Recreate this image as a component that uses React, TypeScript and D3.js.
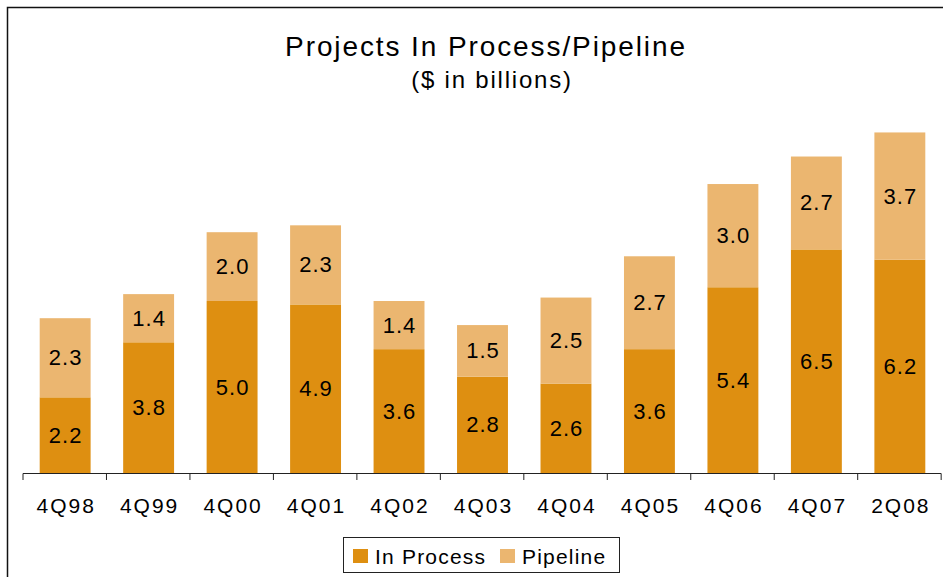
import React from 'react'
import * as d3 from 'd3'

const categories = ['4Q98', '4Q99', '4Q00', '4Q01', '4Q02', '4Q03', '4Q04', '4Q05', '4Q06', '4Q07', '2Q08']
const inProcess = [2.2, 3.8, 5.0, 4.9, 3.6, 2.8, 2.6, 3.6, 5.4, 6.5, 6.2]
const pipeline = [2.3, 1.4, 2.0, 2.3, 1.4, 1.5, 2.5, 2.7, 3.0, 2.7, 3.7]
const seriesNames = ['In Process', 'Pipeline']
const colors = ['#DE8F11', '#EBB670']

const W = 943
const H = 577
const FONT = '"Liberation Sans", Arial, sans-serif'

export default function App() {
  const x = d3.scaleBand<string>()
    .domain(categories)
    .range([23, 942])
    .paddingInner(0.39)
    .paddingOuter(0.2)

  const y = d3.scaleLinear().domain([0, 10]).range([473, 129])

  const rows = categories.map((c, i) => ({ cat: c, inProcess: inProcess[i], pipeline: pipeline[i] }))
  const stacked = d3.stack<typeof rows[number]>().keys(['inProcess', 'pipeline'])(rows)

  const step = x.step()
  const x0 = 23
  const ticks = d3.range(categories.length + 1).map(i => x0 + i * step)

  return (
    <div style={{ position: 'absolute', left: 0, top: 0 }}>
      <svg width={W} height={H} style={{ display: 'block', fontFamily: FONT }}>
        <rect x={0} y={0} width={W} height={H} fill="#fff" />
        <rect x={7.5} y={7.5} width={W + 10} height={H + 10} fill="none" stroke="#111" strokeWidth={1.5} />

        <text x={486} y={56} textAnchor="middle" fontSize={28} letterSpacing={1.9} fill="#000">Projects In Process/Pipeline</text>
        <text x={492} y={88} textAnchor="middle" fontSize={24} letterSpacing={1.8} fill="#000">($ in billions)</text>

        {stacked.map((s, si) => (
          <g key={si}>
            {s.map((d, i) => {
              const bx = x(categories[i])!
              const top = y(d[1])
              const bottom = y(d[0])
              return (
                <g key={i}>
                  <rect x={bx} y={top} width={x.bandwidth()} height={bottom - top} fill={colors[si]} />
                  <text
                    x={bx + x.bandwidth() / 2 + 0.5}
                    y={(top + bottom) / 2 + 7.5}
                    textAnchor="middle"
                    fontSize={22}
                    letterSpacing={1}
                    fill="#000"
                  >
                    {(d[1] - d[0]).toFixed(1)}
                  </text>
                </g>
              )
            })}
          </g>
        ))}

        <line x1={x0} x2={x0 + categories.length * step} y1={473.5} y2={473.5} stroke="#222" strokeWidth={1} />
        {ticks.map((t, i) => (
          <line key={i} x1={t} x2={t} y1={473.5} y2={480} stroke="#222" strokeWidth={1} />
        ))}
        {categories.map(c => (
          <text key={c} x={x(c)! + x.bandwidth() / 2 + 1} y={513} textAnchor="middle" fontSize={21} letterSpacing={2} fill="#000">{c}</text>
        ))}

        <rect x={343.5} y={537.5} width={276} height={35} fill="#fff" stroke="#222" strokeWidth={1} />
        {seriesNames.map((n, i) => {
          const lx = i === 0 ? 353 : 500
          return (
            <g key={n}>
              <rect x={lx} y={549} width={15} height={14} fill={colors[i]} />
              <text x={lx + 22} y={564} fontSize={21} letterSpacing={1.2} fill="#000">{n}</text>
            </g>
          )
        })}
      </svg>
    </div>
  )
}
